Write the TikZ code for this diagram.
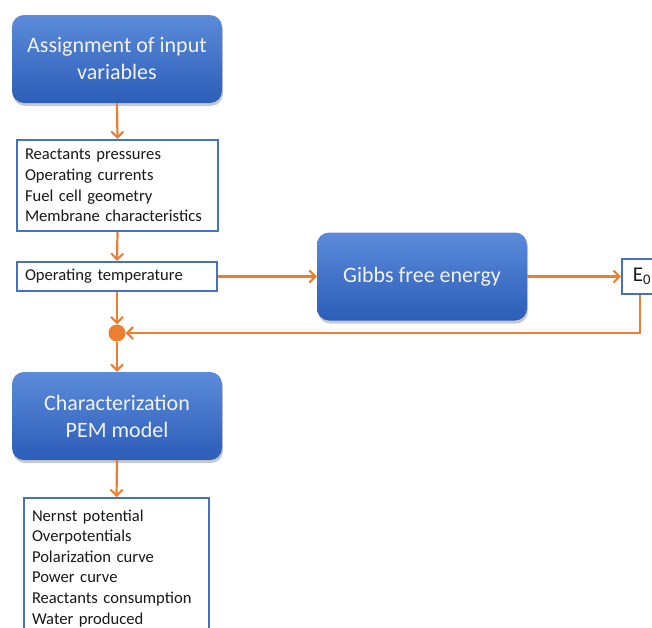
\documentclass[tikz,border=0pt]{standalone}
\usepackage{fontspec}
\setmainfont{Carlito}
\usetikzlibrary{arrows.meta,shadows,calc}
\definecolor{boxblue}{HTML}{4472C4}
\definecolor{topblue}{HTML}{5B8BD9}
\definecolor{botblue}{HTML}{2C5DB8}
\definecolor{arr}{HTML}{ED7D31}
\begin{document}
\begin{tikzpicture}[x=1pt,y=-1pt,
  procbox/.style={rounded corners=12pt, minimum width=210pt, minimum height=88pt,
    top color=topblue, bottom color=botblue, draw=none,
    drop shadow={shadow xshift=1pt, shadow yshift=-3pt, opacity=0.35, fill=black!60},
    text=white!95!black, font=\fontsize{22}{27}\selectfont, align=center, inner sep=0pt},
  listbox/.style={draw=boxblue, line width=2.2pt, fill=white, align=left, inner xsep=8pt,
    font=\fontsize{16.6}{20.6}\selectfont, text=black!90, anchor=center},
  conn/.style={draw=arr, line width=2.2pt, -{Straight Barb[length=6pt,width=12pt,line width=2pt]}},
]
\useasboundingbox (0,0) rectangle (652,627);
\clip (0,0) rectangle (652,627);
\fill[white] (0,0) rectangle (652,627);

\node[procbox] (assign) at (117,59) {Assignment of input\\variables};
\node[listbox, minimum width=201pt, minimum height=91pt, text width=185pt] (inputs) at (117.5,185.5)
  {Reactants pressures\\Operating currents\\Fuel cell geometry\\Membrane characteristics};
\node[listbox, minimum width=200pt, minimum height=29pt, text width=184pt, inner ysep=0pt] (temp) at (117,276.5)
  {Operating temperature};
\node[procbox] (gibbs) at (422,276.5) {Gibbs free energy};
\node[draw=boxblue, line width=2.2pt, fill=white, minimum width=36pt, minimum height=35pt, inner sep=0pt,
  font=\fontsize{21}{24}\selectfont, text=black!90] (e0) at (640,276.5) {\hspace*{2pt}E\textsubscript{0}\hspace*{-2pt}};
\node[circle, fill=arr, minimum size=17pt, inner sep=0pt] (dot) at (117,333) {};
\node[procbox] (pem) at (117,416) {Characterization\\PEM model};
\node[listbox, minimum width=185pt, minimum height=140pt, text width=169pt, anchor=north] (outputs) at (116.5,497)
  {Nernst potential\\Overpotentials\\Polarization curve\\Power curve\\Reactants consumption\\Water produced\\[6pt]};

\draw[conn] (assign.south) -- (inputs.north);
\draw[conn] (inputs.south) -- (temp.north);
\draw[conn] (temp.south) -- (dot.north);
\draw[conn] (dot.south) -- (pem.north);
\draw[conn] (pem.south) -- (outputs.north);
\draw[conn] (temp.east) -- (gibbs.west);
\draw[conn] (gibbs.east) -- (e0.west);
\draw[conn] (e0.south) |- (dot.east);
\end{tikzpicture}
\end{document}
